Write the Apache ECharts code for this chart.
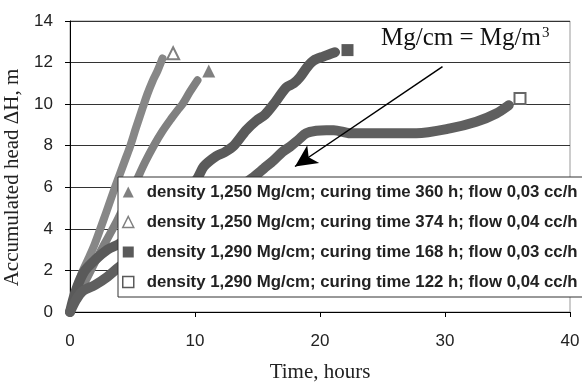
<!DOCTYPE html>
<html><head><meta charset="utf-8">
<script src="https://cdn.jsdelivr.net/npm/echarts@6/dist/echarts.min.js"></script>
<style>html,body{margin:0;padding:0;background:#fff}#c{width:582px;height:385px}</style>
</head><body><div id="c"></div>
<script>
// Series names (legend)
const names = [
  'density 1,250 Mg/cm; curing time 360 h; flow 0,03 cc/h',
  'density 1,250 Mg/cm; curing time 374 h; flow 0,04 cc/h',
  'density 1,290 Mg/cm; curing time 168 h; flow 0,03 cc/h',
  'density 1,290 Mg/cm; curing time 122 h; flow 0,04 cc/h'
];
const xTicks = [0, 10, 20, 30, 40];
const yTicks = [0, 2, 4, 6, 8, 10, 12, 14];

// [time h, head m]
const tri360 = [[0,0],[0.5,0.6],[1,1.2],[1.5,1.8],[2,2.4],[2.6,3.1],[3.6,4.2],[4.5,5.3],[5.3,6.3],[6.0,7.2],[6.7,8.0],[7.4,8.7],[8.1,9.3],[8.6,9.7],[9.0,10.0],[9.6,10.6],[10.2,11.15]];
const tri374 = [[0,0],[0.5,0.9],[0.9,1.8],[1.5,2.6],[2.0,3.3],[2.9,4.8],[3.6,6.0],[4.4,7.3],[4.8,7.95],[5.3,8.9],[5.8,9.8],[6.2,10.5],[6.6,11.1],[7.0,11.6],[7.4,12.2]];
const sq168 = [[0,0],[0.3,0.7],[0.7,1.4],[1.2,2.0],[2,2.5],[3,3.0],[4,3.3],[5,3.8],[6,4.3],[7,4.8],[8,5.3],[9,5.8],[10.1,6.35],[10.7,7.0],[11.7,7.5],[12.4,7.7],[13.1,8.0],[14.1,8.75],[14.9,9.2],[15.6,9.5],[16.3,10.0],[17.3,10.8],[17.9,11.0],[18.4,11.3],[19.0,11.8],[19.5,12.1],[20.3,12.3],[21.2,12.5]];
const sq122 = [[0,0],[0.5,0.6],[1,1.0],[2,1.3],[3,1.7],[4,2.2],[6,3.0],[8,3.8],[10,4.6],[12,5.4],[13.5,6.0],[14.7,6.5],[15.5,6.9],[16.3,7.3],[17.0,7.7],[17.6,7.95],[18.3,8.3],[18.9,8.6],[19.7,8.72],[20.5,8.75],[21.1,8.75],[22.4,8.6],[25.1,8.6],[27.7,8.6],[30.4,8.83],[32.5,9.15],[34.1,9.55],[35.1,9.95]];
// end markers
const endTri360 = [11.1, 11.6];
const endTri374 = [8.25, 12.45];
const endSq168 = [22.2, 12.6];
const endSq122 = [36.0, 10.27];
// arrow annotation (data coords)
const arrowFrom = [29.8, 11.8];
const arrowTo = [18.0, 7.0];

const light = '#808080', light2 = '#878787', dark = '#5a5a5a', dark2 = '#5f5f5f';

const chart = echarts.init(document.getElementById('c'), null, {renderer:'canvas'});
function lineS(name, data, color, w, extra) {
  return Object.assign({ name, type:'line', data, showSymbol:false, symbol:'none', smooth:0.3,
    lineStyle:{ color, width:w, cap:'round', join:'round' }, itemStyle:{color}, z:2, animation:false }, extra||{});
}
function mk(name, pt, symbol, size, fill, stroke) {
  return { name, type:'scatter', data:[pt], symbol, symbolSize:size,
    itemStyle:{ color:fill, borderColor:stroke, borderWidth: fill==='#fff'?2:0, opacity:1 }, z:3, animation:false };
}
chart.setOption({
  animation:false,
  grid:{ left:70, right:12, top:21, bottom:73, containLabel:false, outerBoundsMode:'none',
    show:true, borderColor:'#999', borderWidth:1 },
  xAxis:{ type:'value', min:0, max:40, interval:10,
    name:'Time, hours', nameLocation:'middle', nameGap:50,
    nameTextStyle:{ fontFamily:'Liberation Serif', fontSize:21, color:'#222' },
    axisLine:{ lineStyle:{ color:'#000', width:1 } },
    axisTick:{ show:true, length:5, lineStyle:{color:'#000'} },
    axisLabel:{ fontFamily:'Liberation Sans', fontSize:17, color:'#222', margin:21,
      formatter:v=>xTicks.includes(v)?String(v):'' },
    splitLine:{ show:false } },
  yAxis:{ type:'value', min:0, max:14, interval:2,
    name:'Accumulated head ΔH, m', nameLocation:'middle', nameGap:41,
    nameTextStyle:{ fontFamily:'Liberation Serif', fontSize:21, color:'#222', padding:[0,22,0,0] },
    axisLine:{ show:true, lineStyle:{ color:'#000', width:1 } },
    axisTick:{ show:true, length:5, lineStyle:{color:'#000'} },
    axisLabel:{ fontFamily:'Liberation Sans', fontSize:17, color:'#222', margin:17,
      formatter:v=>yTicks.includes(v)?String(v):'' },
    splitLine:{ show:true, lineStyle:{ color:'#333', width:1 } } },
  legend:{ orient:'vertical', left:118, top:177, z:10,
    backgroundColor:'#fff', borderColor:'#333', borderWidth:1, borderRadius:0,
    padding:[6, 20, 6, 4], itemGap:12, itemWidth:11, itemHeight:11,
    textStyle:{ fontFamily:'Liberation Sans', fontWeight:'bold', fontSize:16.8, color:'#222', padding:[0,0,0,8], lineHeight:18 },
    data:[
      { name:names[0], icon:'triangle', itemStyle:{ color:light, borderWidth:0 } },
      { name:names[1], icon:'triangle', itemStyle:{ color:'#fff', borderColor:light, borderWidth:1.5 } },
      { name:names[2], icon:'rect', itemStyle:{ color:dark, borderWidth:0 } },
      { name:names[3], icon:'rect', itemStyle:{ color:'#fff', borderColor:dark, borderWidth:1.5 } }
    ] },
  graphic:[{ type:'text', left:381, top:26, z:20,
    style:{ text:'{a|Mg/cm = Mg/m}{s|3}', rich:{
      a:{ fontFamily:'Liberation Serif', fontSize:25, fill:'#111' },
      s:{ fontFamily:'Liberation Serif', fontSize:15, fill:'#111', verticalAlign:'top', padding:[0,0,10,1] } } } }],
  series:[
    lineS(names[1], tri374, light2, 8),
    lineS(names[0], tri360, light, 8),
    lineS(names[2], sq168, dark, 10),
    lineS(names[3], sq122, dark2, 10, {
      markLine:{ silent:true, symbol:['none','arrow'], symbolSize:[16,22], label:{show:false},
        lineStyle:{ color:'#000', width:1.5, type:'solid' },
        data:[[{ coord:arrowFrom }, { coord:arrowTo }]] } }),
    mk(names[0], endTri360, 'triangle', 13, light, light),
    mk(names[1], endTri374, 'triangle', 12, '#fff', light),
    mk(names[2], endSq168, 'rect', 12, dark, dark),
    mk(names[3], endSq122, 'rect', 11, '#fff', '#666')
  ]
});
</script></body></html>
